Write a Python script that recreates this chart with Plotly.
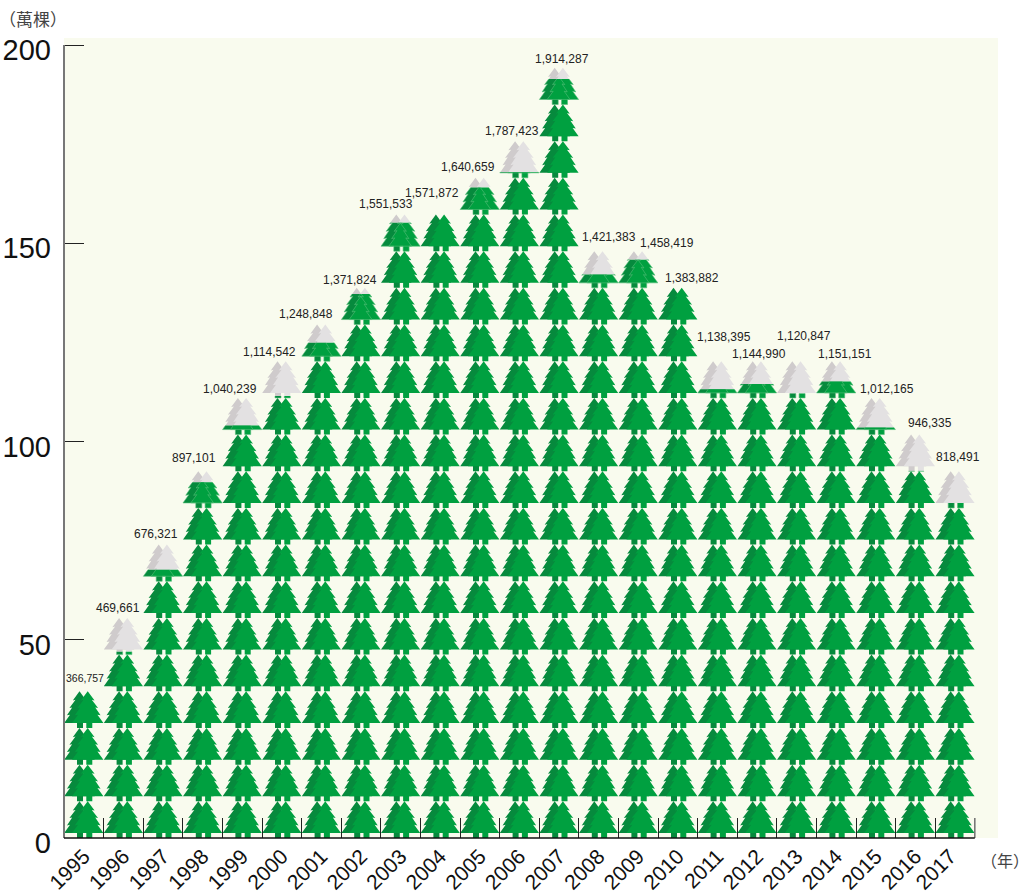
import plotly.graph_objects as go

YEARS = ["1995","1996","1997","1998","1999","2000","2001","2002","2003","2004","2005","2006",
         "2007","2008","2009","2010","2011","2012","2013","2014","2015","2016","2017"]
# green height of each column, in 10,000 trees
HEIGHTS = [37.0, 46.97, 67.63, 89.71, 104.02, 111.45, 124.88, 137.18, 155.15, 157.25, 164.07, 168.0,
           191.43, 142.14, 145.84, 138.75, 113.2, 114.5, 112.08, 115.12, 103.5, 92.55, 84.5]
VALUE_LABELS = ["366,757","469,661","676,321","897,101","1,040,239","1,114,542","1,248,848","1,371,824",
                "1,551,533","1,571,872","1,640,659","1,787,423","1,914,287","1,421,383","1,458,419",
                "1,383,882","1,138,395","1,144,990","1,120,847","1,151,151","1,012,165","946,335","818,491"]
Y_TICKS = [0, 50, 100, 150, 200]

# ---- layout constants (pixels) ----
W, H = 1030, 896
L, R, T, B = 64, 998, 38, 838
PX_PER_CAT = 39.6
PX_PER_UNIT = 3.965
LABEL_XY = [(85,678),(118,608),(156,534),(194,458),(230,389),(269,352),(306,314),(350,280),(386,204),
            (432,193),(468,167),(512,131),(562,59),(609,237),(667,243),(692,278),(724,337),(759,354),
            (804,336),(845,354),(887,389),(930,423),(958,457)]
TILE = 9.25
TRUNK = 1.26
# tree outline as (half-width fraction, height fraction)
PROFILE = [(1.0,0),(.62,.26),(.82,.24),(.48,.49),(.66,.47),(.26,.73),(.44,.71),(0,1)]
TRUNK_HALF = 3.0

def tree(cx_cat, base, dx_px, half_px, trunk_dx):
    """Closed outline of one tree in data coordinates."""
    cx = cx_cat + dx_px / PX_PER_CAT
    hw = half_px / PX_PER_CAT
    tc = cx_cat + trunk_dx / PX_PER_CAT
    th = TRUNK_HALF / PX_PER_CAT
    f0 = base + TRUNK
    fh = TILE - TRUNK
    trunk_pts = [(tc-th, base), (tc+th, base), (tc+th, f0)]
    right = [(cx + w*hw, f0 + t*fh) for w, t in PROFILE]
    left = [(cx - w*hw, f0 + t*fh) for w, t in reversed(PROFILE[:-1])]
    return trunk_pts + right + left + [(tc-th, f0)]

def clip(poly, level, below=True):
    out = []
    n = len(poly)
    inside = (lambda p: p[1] <= level) if below else (lambda p: p[1] >= level)
    for i in range(n):
        a, b = poly[i], poly[(i+1) % n]
        ia, ib = inside(a), inside(b)
        if ia:
            out.append(a)
        if ia != ib:
            s = (level - a[1]) / (b[1] - a[1])
            out.append((a[0] + s*(b[0]-a[0]), level))
    return out

def add(path, poly):
    if len(poly) >= 3:
        path[0].extend([p[0] for p in poly] + [poly[0][0], None])
        path[1].extend([p[1] for p in poly] + [poly[0][1], None])

def add_edges(path, poly, level):
    n = len(poly)
    for i in range(n):
        a, b = poly[i], poly[(i+1) % n]
        if a[1] > level and b[1] > level:
            continue
        if a[1] > level or b[1] > level:
            s = (level - a[1]) / (b[1] - a[1])
            c = (a[0] + s*(b[0]-a[0]), level)
            a, b = (c, b) if a[1] > level else (a, c)
        path[0].extend([a[0], b[0], None])
        path[1].extend([a[1], b[1], None])

back_g, back_x, front_g, front_x, edges = ([], []), ([], []), ([], []), ([], []), ([], [])
for i, h in enumerate(HEIGHTS):
    c = i + 0.5
    n = 0
    while n * TILE < h - 0.01:
        base = n * TILE
        back = tree(c, base, -4.3, 15.3, -3.8)
        front = tree(c, base, 3.9, 15.7, 5.5)
        top = base + TILE
        if top <= h + 0.01:
            add(back_g, back); add(front_g, front)
        else:
            add(back_g, clip(back, h)); add(back_x, clip(back, h, False))
            add(front_g, clip(front, h)); add(front_x, clip(front, h, False))
            add_edges(edges, front, h); add_edges(edges, back, h)
        n += 1

fig = go.Figure()
for path, col in [(back_x, "#cfcbcc"), (back_g, "#068a3d"), (front_x, "#e3e1e2"), (front_g, "#00a040")]:
    fig.add_trace(go.Scatter(x=path[0], y=path[1], mode="none", fill="toself", fillcolor=col,
                             hoverinfo="skip", showlegend=False))
fig.add_trace(go.Scatter(x=edges[0], y=edges[1], mode="lines", line=dict(color="#55bd78", width=0.6),
                         hoverinfo="skip", showlegend=False))

x_max = (R - L) / PX_PER_CAT
y_max = (B - T) / PX_PER_UNIT
tick_pos = [i + 0.5 for i in range(len(YEARS))]
tick_pos[-1] -= 5 / PX_PER_CAT
fig.update_xaxes(range=[0, x_max], showgrid=False, zeroline=False, showline=False, automargin=False,
                 tickmode="array", tickvals=tick_pos, ticktext=YEARS,
                 ticks="", tickangle=-45, tickfont=dict(family="Liberation Sans", size=21, color="#111"),
                 ticklabelstandoff=1,
                 minor=dict(tickmode="array", tickvals=list(range(1, len(YEARS))), ticks="inside",
                            ticklen=20, tickwidth=1, tickcolor="#222", showgrid=False))
fig.update_yaxes(range=[0, y_max], showgrid=False, zeroline=False, showline=False, automargin=False,
                 tickmode="array", tickvals=Y_TICKS, ticktext=[str(v) for v in Y_TICKS],
                 ticks="inside", ticklen=20, tickwidth=1, tickcolor="#222",
                 tickfont=dict(family="Liberation Sans", size=29, color="#111"),
                 ticklabelstandoff=12, ticklabelshift=5)

ann = []
for i, (t, (x, y)) in enumerate(zip(VALUE_LABELS, LABEL_XY)):
    ann.append(dict(text=t, xref="paper", yref="paper", x=(x-L)/(R-L), y=(B-y)/(B-T), showarrow=False,
                    xanchor="center", yanchor="middle",
                    font=dict(family="Liberation Sans", size=10.5 if i == 0 else 12, color="#222")))
ann.append(dict(text="（萬棵）", xref="paper", yref="paper", x=(33-L)/(R-L), y=(B-18)/(B-T), showarrow=False,
                xanchor="center", yanchor="middle",
                font=dict(family="Noto Sans CJK TC", size=17, color="#444")))
ann.append(dict(text="（年）", xref="paper", yref="paper", x=(1005-L)/(R-L), y=(B-860)/(B-T), showarrow=False,
                xanchor="center", yanchor="middle",
                font=dict(family="Noto Sans CJK TC", size=16, color="#444")))

shapes = [
    dict(type="line", xref="paper", yref="y", x0=0, x1=0, y0=0, y1=200, line=dict(color="#777", width=2)),
    dict(type="line", xref="x", yref="y", x0=len(YEARS), x1=len(YEARS), y0=0, y1=20/PX_PER_UNIT, line=dict(color="#777", width=1.6)),
    dict(type="line", xref="x", yref="paper", x0=0, x1=len(YEARS), y0=0, y1=0, line=dict(color="#111", width=1.6)),
]
fig.update_layout(width=W, height=H, autosize=False, margin=dict(l=L, r=W-R, t=T, b=H-B),
                  paper_bgcolor="white", plot_bgcolor="#f9fbee", showlegend=False,
                  annotations=ann, shapes=shapes)
fig.write_html("out.html", config=dict(displayModeBar=False), post_script="document.body.style.margin='0';")
